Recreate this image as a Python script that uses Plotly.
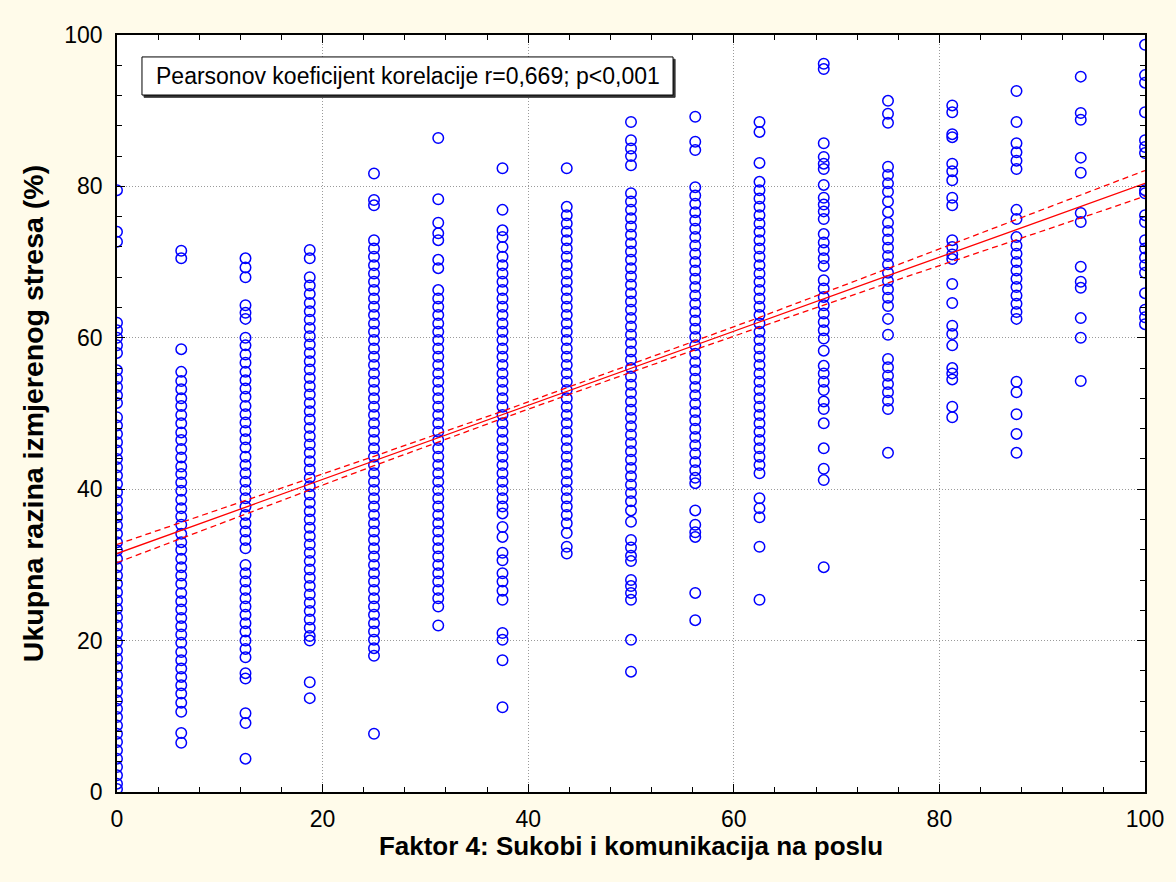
import plotly.graph_objects as go

# ---------------- data ----------------
x_levels = [0, 6.25, 12.5, 18.75, 25, 31.25, 37.5, 43.75, 50, 56.25,
            62.5, 68.75, 75, 81.25, 87.5, 93.75, 100]

y_x000 = [79.5, 74, 72.7, 62, 61, 60, 59, 58, 55.7, 54.6, 53.5, 52.4, 51.4, 49.5,
          48.4, 47.3, 46.2, 45.1, 44, 42.9, 41.8, 40.7, 39.6, 38.5, 37.4, 36.3, 35.2,
          34.1, 33, 31.9, 30.8, 29.7, 28.6, 27.5, 26.4, 25.3, 24.2, 23.1, 22, 20.9,
          19.8, 18.7, 17.6, 16.5, 15.4, 14.3, 13.2, 12.1, 11, 9.9, 8.8, 7.7, 6.6,
          5.5, 4.4, 3.3, 2.2, 1.1, 0.4]
y_x006 = [71.5, 70.5, 58.5, 55.5, 54.3, 53.2, 52, 51, 49.8, 48.7, 47.5, 46.5, 45.3,
          44.2, 43, 42, 40.9, 39.8, 38.6, 37.5, 36.4, 35.3, 34.1, 33, 32, 30.8, 29.7,
          28.6, 27.5, 26.3, 25.2, 24.1, 23, 21.9, 20.8, 19.7, 18.5, 17.4, 16.3, 15.2,
          14.1, 13, 11.8, 10.6, 7.8, 6.5]
y_x012 = [70.5, 69.3, 68, 64.3, 63.3, 62.5, 60, 59, 57.8, 56.7, 55.5, 54.4, 53.3,
          52.2, 51, 49.9, 48.8, 47.7, 46.6, 45.5, 44.3, 43.2, 42.1, 41, 39.9, 38.8,
          37.7, 36.6, 35.5, 34.4, 33.3, 32.2, 30, 28.9, 27.8, 26.7, 25.6, 24.5, 23.4,
          22.3, 21.2, 20, 18.9, 17.8, 15.7, 15, 10.4, 9.1, 4.4]
y_x019 = [71.6, 70.5, 68, 66.9, 65.8, 64.6, 63.5, 62.4, 61.3, 60.2, 59.1, 58, 56.9,
          55.8, 54.7, 53.6, 52.5, 51.4, 50.3, 49.2, 48.1, 47, 45.9, 44.8, 43.7, 42.6,
          41.5, 40.4, 39.3, 38.2, 37.1, 36, 34.9, 33.8, 32.7, 31.6, 30.5, 29.4, 28.3,
          27.2, 26.1, 25, 23.9, 22.8, 21.7, 20.6, 20, 14.5, 12.4]
y_x025 = [81.7, 78.2, 77.5, 72.9, 71.8, 70.7, 69.6, 68.5, 67.4, 66.3, 65.2, 64.1, 63,
          61.9, 60.8, 59.7, 58.6, 57.5, 56.4, 55.3, 54.2, 53.1, 52, 50.9, 49.8, 48.7,
          47.6, 46.5, 45.4, 44.3, 43.2, 42.1, 41, 39.9, 38.8, 37.7, 36.6, 35.5, 34.4,
          33.3, 32.2, 31.1, 30, 28.9, 27.8, 26.7, 25.6, 24.5, 23.4, 22.3, 21.2, 20.1,
          19, 18, 7.7]
y_x031 = [86.4, 78.3, 75.2, 73.8, 72.9, 70.3, 69.2, 66.3, 65.2, 64.1, 63, 61.9, 60.8,
          59.7, 58.6, 57.5, 56.4, 55.3, 54.2, 53.1, 52, 50.9, 49.8, 48.7, 47.6, 46.5,
          45.4, 44.3, 43.2, 42.1, 41, 39.9, 38.8, 37.7, 36.6, 35.5, 34.4, 33.3, 32.2,
          31.1, 30, 28.9, 27.8, 26.7, 25.6, 24.5, 22]
y_x038 = [82.4, 76.9, 74.2, 73.3, 72, 70.7, 69.6, 68.5, 67.4, 66.3, 65.2, 64.1, 63,
          61.9, 60.8, 59.7, 58.6, 57.5, 56.4, 55.3, 54.2, 53.1, 52, 50.9, 49.8, 48.7,
          47.6, 46.5, 45.4, 44.3, 43.2, 42.1, 41, 39.9, 38.8, 37.7, 36.8, 35, 33.7,
          31.6, 30.6, 28.9, 27.8, 26.6, 25.4, 21, 20.1, 17.4, 11.2]
y_x044 = [82.4, 77.3, 76.2, 75.1, 74, 72.9, 71.8, 70.7, 69.6, 68.5, 67.4, 66.3, 65.2,
          64.1, 63, 61.9, 60.8, 59.7, 58.6, 57.5, 56.4, 55.3, 54.2, 53.1, 52, 50.9,
          49.8, 48.7, 47.6, 46.5, 45.4, 44.3, 43.2, 42.1, 41, 39.9, 38.8, 37.7, 36.6,
          35.5, 34.2, 32.4, 31.5]
y_x050 = [88.5, 86.1, 85, 84, 82.8, 79.1, 78, 76.9, 75.8, 74.7, 73.6, 72.5, 71.4, 70.3,
          69.2, 68.1, 67, 65.9, 64.8, 63.7, 62.6, 61.5, 60.4, 59.3, 58.2, 57.1, 56,
          54.9, 53.8, 52.7, 51.6, 50.5, 49.4, 48.3, 47.2, 46.1, 45, 43.9, 42.8, 41.7,
          40.6, 39.5, 38.4, 37.2, 35.7, 33.3, 32.3, 31.2, 30.5, 28, 27.2, 26.3, 25.4,
          20.1, 15.9]
y_x056 = [89.2, 85.9, 84.8, 79.9, 78.8, 77.7, 76.6, 75.5, 74.4, 73.3, 72.2, 71.1, 70,
          68.9, 67.8, 66.7, 65.6, 64.5, 63.4, 62.3, 61.2, 60.1, 59, 57.9, 56.8, 55.7,
          54.6, 53.5, 52.4, 51.3, 50.2, 49.1, 48, 46.9, 45.8, 44.7, 43.6, 42.5, 41.5,
          40.8, 37.2, 35.3, 34.3, 33.7, 26.3, 22.7]
y_x062 = [88.5, 87.2, 83.1, 80.6, 79.5, 78.4, 77.3, 76.2, 75.1, 74, 72.9, 71.8, 70.7,
          69.6, 68.5, 67.4, 66.3, 65.2, 64.1, 63, 61.9, 60.8, 59.7, 58.6, 57.5, 56.4,
          55.3, 54.2, 53.1, 52, 50.9, 49.8, 48.7, 47.6, 46.5, 45.4, 44.3, 43.2, 42.1,
          38.8, 37.5, 36.3, 32.4, 25.4]
y_x069 = [96.2, 95.5, 85.7, 83.9, 83, 82.3, 80.2, 78.5, 77.6, 76.7, 75.7, 73.7, 72.6,
          71.6, 70.5, 69.5, 67.6, 66.5, 65.4, 64.3, 63.2, 62.1, 61, 59.9, 58.3, 56.3,
          55.3, 54.2, 53.1, 51.6, 50.6, 48.7, 45.4, 42.7, 41.2, 29.7]
y_x075 = [91.3, 89.6, 88.4, 82.6, 81.5, 80.4, 79.3, 78, 76.6, 75.2, 74.1, 73, 71.9,
          70.8, 69.7, 68.6, 67.5, 66.4, 65.3, 64.2, 62.5, 60.4, 57.2, 56.1, 55, 53.9,
          52.8, 51.7, 50.6, 44.8]
y_x081 = [90.7, 89.8, 86.9, 86.5, 83, 82, 80.8, 78.5, 77.5, 72.9, 72, 71, 70.4, 67.1,
          64.6, 61.6, 60.5, 59, 56, 55.3, 54.5, 50.9, 49.5]
y_x088 = [92.6, 88.5, 85.7, 84.5, 83.4, 82.3, 76.9, 75.7, 73.3, 72.2, 71.1, 70, 68.9,
          67.8, 66.7, 65.6, 64.5, 63.4, 62.5, 54.2, 52.8, 49.9, 47.3, 44.8]
y_x094 = [94.5, 89.7, 88.8, 83.8, 81.8, 76.5, 75.3, 69.4, 67.4, 66.6, 62.6, 60, 54.3]
y_x100 = [98.7, 94.7, 93.7, 89.8, 86.1, 85.2, 84.4, 79.5, 79.1, 76.2, 75.3, 72.9, 71.8,
          70.6, 69.6, 68.6, 65.9, 63.7, 62.7, 61.8]

columns_y = [y_x000, y_x006, y_x012, y_x019, y_x025, y_x031, y_x038, y_x044, y_x050,
             y_x056, y_x062, y_x069, y_x075, y_x081, y_x088, y_x094, y_x100]

# regression line and 95% confidence band
fit_x = [0, 12.5, 25, 37.5, 50, 62.5, 75, 87.5, 100]
fit_y = [31.5, 37.6, 43.7, 49.8, 55.95, 62.05, 68.2, 74.3, 80.4]
ci_upper = [32.7, 38.5, 44.35, 50.3, 56.45, 62.7, 69.15, 75.65, 82.1]
ci_lower = [30.3, 36.7, 43.1, 49.35, 55.45, 61.4, 67.25, 72.95, 78.7]

x_ticks = [0, 20, 40, 60, 80, 100]
y_ticks = [0, 20, 40, 60, 80, 100]

annotation_text = "Pearsonov koeficijent korelacije r=0,669; p<0,001"
x_title = "Faktor 4: Sukobi i komunikacija na poslu"
y_title = "Ukupna razina izmjerenog stresa (%)"

# ---------------- build ----------------
pts_x, pts_y = [], []
for xv, ys in zip(x_levels, columns_y):
    pts_x.extend([xv] * len(ys))
    pts_y.extend(ys)

FONT = "Arial, 'Liberation Sans', sans-serif"
fig = go.Figure()

fig.add_trace(go.Scatter(
    x=pts_x, y=pts_y, mode="markers",
    marker=dict(symbol="circle-open", size=10.5, color="#0000FF",
                line=dict(width=1.5, color="#0000FF")),
    cliponaxis=True, showlegend=False, hoverinfo="x+y"))

fig.add_trace(go.Scatter(x=fit_x, y=ci_upper, mode="lines",
                         line=dict(color="#FF0000", width=1.3, dash="6px,4px"),
                         showlegend=False))
fig.add_trace(go.Scatter(x=fit_x, y=ci_lower, mode="lines",
                         line=dict(color="#FF0000", width=1.3, dash="6px,4px"),
                         showlegend=False))
fig.add_trace(go.Scatter(x=fit_x, y=fit_y, mode="lines",
                         line=dict(color="#FF0000", width=1.3),
                         showlegend=False))

axis_common = dict(
    showline=True, linecolor="black", linewidth=1.8, mirror="ticks",
    ticks="inside", ticklen=8, tickwidth=1, tickcolor="black",
    showgrid=True, gridcolor="#9A9A9A", griddash="1px,2px", gridwidth=1,
    zeroline=False, range=[0, 100], tick0=0, dtick=20,
    minor=dict(dtick=4, tick0=0, ticks="inside", ticklen=5, tickcolor="black",
               showgrid=False),
    tickfont=dict(family=FONT, size=23, color="black"),
    fixedrange=True,
)

fig.update_xaxes(**axis_common, tickvals=x_ticks, ticklabelstandoff=5,
                 title=dict(text=x_title, standoff=2,
                            font=dict(family=FONT, size=26, color="black",
                                      weight="bold")))
fig.update_yaxes(**axis_common, tickvals=y_ticks, ticklabelstandoff=8,
                 title=dict(text=y_title, standoff=12,
                            font=dict(family=FONT, size=28.5, color="black",
                                      weight="bold")))

# annotation box with a small drop shadow
bx0, bx1, by0, by1 = 0.0243, 0.5409, 0.9207, 0.9710
fig.add_shape(type="rect", xref="paper", yref="paper",
              x0=bx0 + 0.002, x1=bx1 + 0.002, y0=by0 - 0.003, y1=by1 - 0.003,
              line=dict(color="#333333", width=1), fillcolor="#333333", layer="above")
fig.add_shape(type="rect", xref="paper", yref="paper",
              x0=bx0, x1=bx1, y0=by0, y1=by1,
              line=dict(color="black", width=1), fillcolor="white", layer="above")
fig.add_annotation(xref="paper", yref="paper", x=(bx0 + bx1) / 2, y=(by0 + by1) / 2,
                   text=annotation_text, showarrow=False,
                   xanchor="center", yanchor="middle",
                   font=dict(family=FONT, size=23, color="black"))

fig.update_layout(
    width=1176, height=882,
    margin=dict(l=117, r=31, t=35, b=90),
    paper_bgcolor="#FFFBEA", plot_bgcolor="white",
    showlegend=False,
)

fig.write_html("out.html")
